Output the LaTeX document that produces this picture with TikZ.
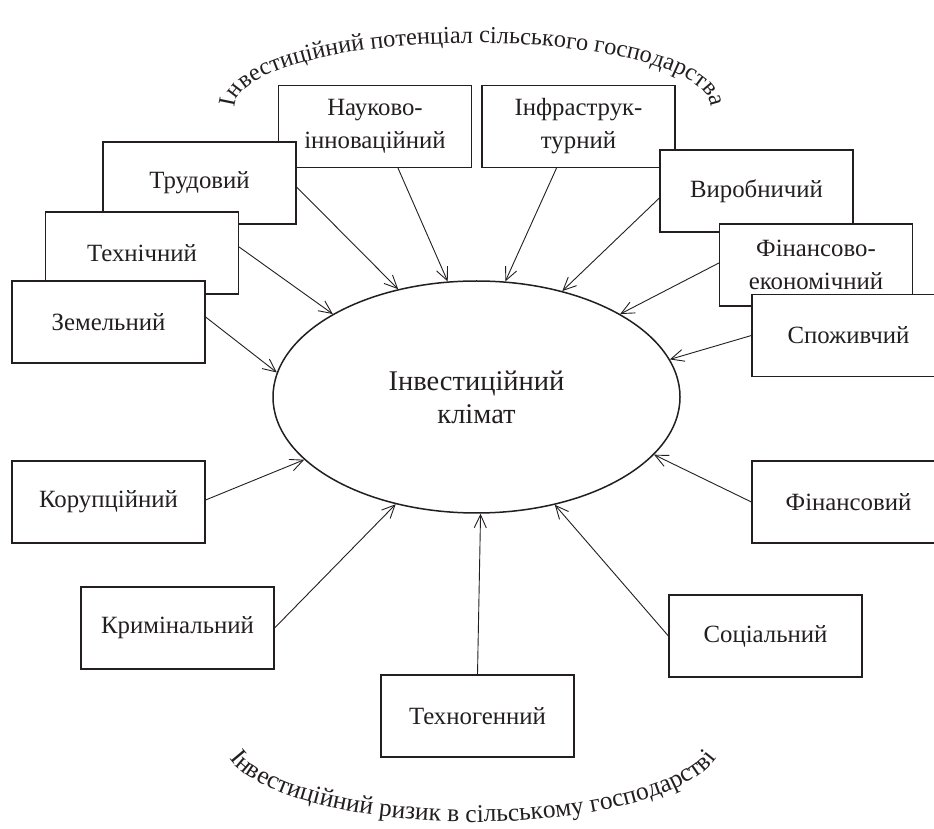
\documentclass[tikz,border=0pt]{standalone}
\usepackage{fontspec}
\setmainfont{Liberation Serif}
\usetikzlibrary{arrows.meta,shapes.geometric,decorations.text}
\definecolor{ink}{HTML}{231F20}
\newcommand{\boxfont}{\fontsize{24.8}{33}\selectfont}
\newcommand{\midfont}{\fontsize{28.5}{33}\selectfont}
\newcommand{\arcfont}{\fontsize{24.3}{28}\selectfont}
\newcommand{\lowarcfont}{\fontsize{25.5}{28}\selectfont}
\begin{document}
\begin{tikzpicture}[x=1pt,y=1pt,
  factor/.style={draw=ink, fill=white, line width=1.2pt, minimum width=193pt, minimum height=82pt, inner sep=0pt, align=center, font=\boxfont, text=ink},
  link/.style={draw=ink, line width=0.9pt, -{Straight Barb[length=13pt,width=12pt,line width=0.9pt]}},
  climate/.style={ellipse, draw=ink, line width=1.5pt, minimum width=407pt, minimum height=232pt, inner sep=0pt, align=center, font=\midfont, text=ink}
]
\useasboundingbox (0,0) rectangle (934,828);
\clip (0,0) rectangle (934,828);
\fill[white] (0,0) rectangle (934,828);

% upper-left stack
\node[factor] (nauk) at (375,701.5) {Науково-\\інноваційний};
\node[factor] (trud) at (199.5,645) {Трудовий};
\node[factor] (tech) at (142,575) {Технічний};
\node[factor] (zem) at (108.5,506) {Земельний};
% upper-right stack
\node[factor] (infra) at (578.5,701.5) {Інфраструк-\\турний};
\node[factor] (vyrob) at (756.5,637) {Виробничий};
\node[factor] (finek) at (816,563) {Фінансово-\\економічний};
\node[factor] (spoz) at (848.5,492.5) {Споживчий};
% lower boxes
\node[factor] (korup) at (108.5,326) {Корупційний};
\node[factor] (krim) at (177.5,200) {Кримінальний};
\node[factor] (tehno) at (477.5,112) {Техногенний};
\node[factor] (soc) at (765.5,192) {Соціальний};
\node[factor] (fin) at (848.5,326) {Фінансовий};

% centre
\node[climate] (clim) at (476.5,431) {Інвестиційний\\клімат};

% connectors
\draw[link] ([yshift=5pt]zem.east) -- (clim.173);
\draw[link] ([yshift=6pt]tech.east) -- (clim.150);
\draw[link] ([yshift=-4pt]trud.east) -- (clim.126);
\draw[link] ([xshift=23pt]nauk.south) -- (clim.104);
\draw[link] ([xshift=-22pt]infra.south) -- (clim.76);
\draw[link] ([yshift=-7pt]vyrob.west) -- (clim.51);
\draw[link] ([yshift=2pt]finek.west) -- (clim.30);
\draw[link] (spoz.west) -- (clim.11);
\draw[link] ([yshift=2pt]korup.east) -- (clim.200);
\draw[link] (krim.east) -- (clim.233);
\draw[link] (tehno.north) -- (clim.272);
\draw[link] (soc.west) -- (clim.306);
\draw[link] (fin.west) -- (clim.342);

% arched captions
\path[decorate, decoration={text along path, text align=center,
  text={|\arcfont\color{ink}|Інвестиційний потенціал сільського господарства}}]
  (473,721) ++(195:238 and 64) arc[start angle=195, end angle=-15, x radius=238, y radius=64];
\path[decorate, decoration={text along path, text align=center,
  text={|\lowarcfont\color{ink}|Інвестиційний ризик в сільському господарстві}}]
  (473,88) ++(160:250 and 82) arc[start angle=160, end angle=380, x radius=250, y radius=82];
\end{tikzpicture}
\end{document}
